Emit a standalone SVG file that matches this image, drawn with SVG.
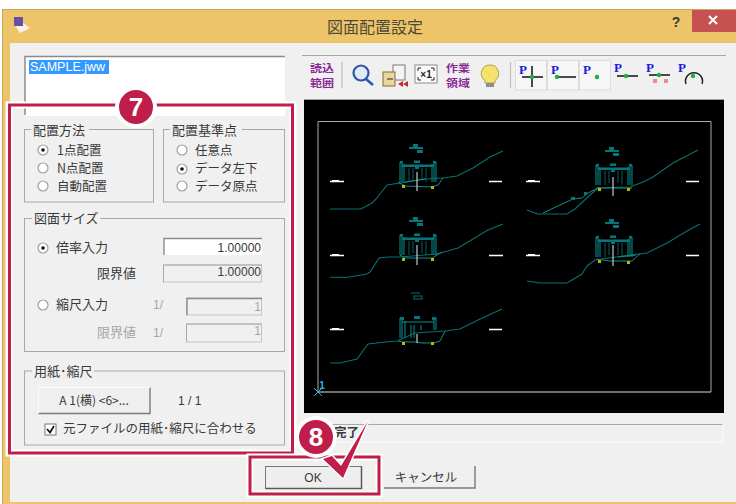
<svg xmlns="http://www.w3.org/2000/svg" xmlns:xlink="http://www.w3.org/1999/xlink" width="736" height="504" viewBox="0 0 736 504">
<style>
text{font-family:"Noto Sans CJK JP","Noto Sans",sans-serif;font-size:13px;fill:#3a3a3a}
.lat{font-family:"Liberation Sans",sans-serif;font-size:12px}
.opt{font-size:12.500px}
.dis{fill:#a6a6a6}
.grp{fill:none;stroke:#a8a8a8;stroke-width:1}
.lbl{fill:#f0f0f0}
.field{fill:#f0f0f0;stroke:#c4c4c4;stroke-width:1}
.sunk{fill:none;stroke:#8a8a8a;stroke-width:1.4}
.radio{fill:#fff;stroke:#a0a0a0;stroke-width:1.2}
.btn{fill:#eeeeee;stroke:#777;stroke-width:1}
.t{fill:none;stroke:#0b6f70;stroke-width:1.1}
.s{fill:none;stroke:#0a9092;stroke-width:1}
.i{fill:none;stroke:#075f60;stroke-width:1}
.sf{fill:#087678}
.mk{stroke:#fff;stroke-width:1.4}
.y{fill:#b8b800}
.hl{fill:none;stroke:#fff;stroke-width:8}
.rd{fill:none;stroke:#bf1e4b;stroke-width:3}
.bd{fill:#bf1e4b;stroke:#fff;stroke-width:4}
.num{font-family:"Liberation Sans",sans-serif;font-weight:700;font-size:26px;fill:#fff;text-anchor:middle}
.P{font-family:"Liberation Serif",serif;font-weight:700;font-size:13px;fill:#1a1ae0}
.pur{font-size:9.800px;font-weight:700;fill:#8a2a96}
.tb{stroke:#111;stroke-width:1.5}
.g{fill:#1fae3c}
.tg{fill:#f6f6f6;stroke:#dcdcdc;stroke-width:1}
</style>
<defs>
<g id="dwg">
<path class="s" d="M-17 20V0M-15 20V1M-13 20V2M19 20V0M17 20V1M15 20V2"/>
<path class="i" d="M-8 6V20M-4 6V18M5 6V18M9 6V20"/>
<path class="sf" d="M-15 2.500H17V5H-15ZM-17-1H-14V1.500H-17ZM-3-1.500H3V1H-3ZM16-1H19V1.500H16Z"/>
<rect class="sf" x="-2" y="5" width="4" height="2"/>
<path class="sf" d="M-8-15H-4V-18H1V-15H6V-13H-8ZM0-12H6V-9H0Z"/>
</g>
</defs>
<rect width="736" height="504" fill="#fff"/>
<g id="window">
<rect x="2.500" y="9.500" width="740" height="495" fill="#eec468" stroke="#c9a75c"/>
<rect x="10" y="43" width="726" height="459" fill="#f0f0f0"/>
<rect x="692" y="10" width="44" height="22" fill="#c75050"/>
<path d="M709 16L717 24M717 16L709 24" stroke="#fff" stroke-width="2"/>
<text x="676" y="27" class="lat" style="font-size:14px;font-weight:700;text-anchor:middle">?</text>
<text x="327" y="33" style="font-size:16px;fill:#4a4a3a">図面配置設定</text>
<path d="M14 24L22 22L30 28L20 33Z" fill="#f5f3e8"/>
<rect x="14" y="17" width="9" height="9" fill="#6a4fa8"/>
</g>
<g id="filelist">
<rect x="25" y="56" width="260" height="60" fill="#fff"/>
<path d="M25 115V56.500H285" fill="none" stroke="#8c8c8c" stroke-width="1.500"/>
<rect x="29" y="60" width="80" height="14" fill="#3399ff"/>
<text x="30" y="71" class="lat" style="fill:#fff;font-size:12.500px">SAMPLE.jww</text>
</g>
<g id="placement-method">
<rect class="grp" x="24.500" y="129.500" width="129" height="72.500"/>
<rect class="lbl" x="31" y="124" width="58" height="12"/>
<text x="33" y="135">配置方法</text>
<circle class="radio" cx="43" cy="150" r="5"/><circle cx="43" cy="150" r="1.800" fill="#111"/>
<text x="57" y="155" class="opt">1点配置</text>
<circle class="radio" cx="43" cy="168" r="5"/>
<text x="57" y="173" class="opt">N点配置</text>
<circle class="radio" cx="43" cy="186" r="5"/>
<text x="57" y="191" class="opt">自動配置</text>
</g>
<g id="base-point">
<rect class="grp" x="163.500" y="129.500" width="121" height="72.500"/>
<rect class="lbl" x="170" y="124" width="72" height="12"/>
<text x="172" y="135">配置基準点</text>
<circle class="radio" cx="182" cy="150" r="5"/>
<text x="195" y="155" class="opt">任意点</text>
<circle class="radio" cx="182" cy="169" r="5"/><circle cx="182" cy="169" r="1.800" fill="#111"/>
<text x="195" y="173" class="opt">データ左下</text>
<circle class="radio" cx="182" cy="186" r="5"/>
<text x="195" y="191" class="opt">データ原点</text>
</g>
<g id="drawing-size">
<rect class="grp" x="24.500" y="218.500" width="260" height="133"/>
<rect class="lbl" x="32" y="212" width="68" height="13"/>
<text x="34" y="223">図面サイズ</text>
<circle class="radio" cx="43" cy="248" r="5"/><circle cx="43" cy="248" r="1.800" fill="#111"/>
<text x="56" y="252">倍率入力</text>
<rect x="163.500" y="238" width="98" height="17" fill="#fff"/>
<path class="sunk" d="M164 255V238.500H262"/>
<text x="261" y="252" class="lat" text-anchor="end">1.00000</text>
<text x="97" y="278">限界値</text>
<rect class="field" x="163.500" y="265" width="98" height="17"/>
<path class="grp" d="M163.500 282V265H262"/>
<text x="261" y="276" class="lat" text-anchor="end">1.00000</text>
<circle class="radio" cx="43" cy="305" r="5"/>
<text x="56" y="309">縮尺入力</text>
<text x="153" y="309" class="lat dis">1/</text>
<rect class="field" x="186.500" y="298" width="75" height="17"/>
<path class="sunk" d="M187 315V298.500H262"/>
<text x="261" y="311" class="lat dis" text-anchor="end">1</text>
<text x="97" y="337" class="dis">限界値</text>
<text x="153" y="337" class="lat dis">1/</text>
<rect class="field" x="186.500" y="324" width="75" height="18"/>
<path class="grp" d="M186.500 342V324H262"/>
<text x="261" y="335" class="lat dis" text-anchor="end">1</text>
</g>
<g id="paper-scale">
<rect class="grp" x="24.500" y="371" width="260" height="74"/>
<rect class="lbl" x="32" y="365" width="62" height="13"/>
<text x="34" y="376">用紙･縮尺</text>
<rect x="38.500" y="387.500" width="111" height="26" fill="#efefef"/>
<path d="M38.500 413.500H150V387.500" fill="none" stroke="#7a7a7a" stroke-width="1.400"/>
<path d="M38.500 413V387.500H150" fill="none" stroke="#fbfbfb"/>
<text x="94" y="405" text-anchor="middle" style="font-size:12px">A 1(横) &lt;6&gt;...</text>
<text x="178" y="405" class="lat">1 / 1</text>
<rect x="45" y="424" width="11" height="11" fill="#fff" stroke="#777"/>
<path d="M47 429L50 432.500L54 426" fill="none" stroke="#111" stroke-width="1.700"/>
<text x="63" y="433" style="font-size:12.500px">元ファイルの用紙･縮尺に合わせる</text>
</g>
<g id="toolbar">
<path d="M302 55.500H726" stroke="#a8a8a8"/>
<path d="M342 62V88M510.500 62V88" stroke="#bdbdbd" stroke-width="1.200"/>
<text class="pur" x="310" y="72" textLength="24" lengthAdjust="spacingAndGlyphs">読込</text>
<text class="pur" x="310" y="86.500" textLength="24" lengthAdjust="spacingAndGlyphs">範囲</text>
<circle cx="361" cy="73" r="7.500" fill="#dfe9f7" stroke="#2d55a8" stroke-width="2.200"/>
<path d="M366 79L373 85" stroke="#2d55a8" stroke-width="2.600"/>
<rect x="393" y="65" width="12" height="15" fill="#f4f4f4" stroke="#777"/>
<rect x="383" y="72" width="12" height="14" fill="#e8d7a0" stroke="#8a6a2a"/>
<path d="M387 79H393" stroke="#222"/>
<path d="M403 81L398 84L403 87ZM408 81L403 84L408 87Z" fill="#c0302a"/>
<rect x="415" y="65" width="22" height="18" fill="#fbfbfb" stroke="#8a8a8a"/>
<path d="M418 71V68H421M431 68H434V71M418 77V80H421M431 80H434V77" fill="none" stroke="#222"/>
<text x="426" y="78" text-anchor="middle" style="font-family:'Liberation Sans',sans-serif;font-size:10px;font-weight:700;fill:#222">×1</text>
<text class="pur" x="446" y="72" textLength="24" lengthAdjust="spacingAndGlyphs">作業</text>
<text class="pur" x="446" y="86.500" textLength="24" lengthAdjust="spacingAndGlyphs">領域</text>
<path d="M490 65a8.500 8.500 0 0 1 5 15.500V83H485V80.500A8.500 8.500 0 0 1 490 65Z" fill="#f4e26a" stroke="#b0a050"/>
<rect x="486" y="83" width="8" height="4" fill="#8d8d8d"/>
</g>
<g id="snap-buttons">
<rect class="tg" x="515.500" y="60.500" width="31" height="29.500"/>
<rect class="tg" x="547.500" y="60.500" width="31" height="29.500"/>
<rect class="tg" x="579.500" y="60.500" width="31" height="29.500"/>
<text x="519" y="74" class="P">P</text>
<path class="tb" d="M532 66V87M522 77H543"/><circle class="g" cx="532" cy="77" r="2.200"/>
<text x="551" y="74" class="P">P</text>
<path class="tb" d="M557 77H576"/><circle class="g" cx="557" cy="77" r="2.200"/>
<text x="583" y="74" class="P">P</text><circle class="g" cx="597" cy="77" r="2.200"/>
<text x="614" y="72" class="P">P</text>
<path class="tb" d="M617 76H638"/><circle class="g" cx="626" cy="76" r="2.200"/>
<text x="646" y="72" class="P">P</text>
<path class="tb" d="M649 75H670"/><circle class="g" cx="659" cy="75" r="2.200"/>
<path d="M654 79V83M656 79V83M665 79V83M667 79V83" stroke="#e03030"/>
<text x="678" y="72" class="P">P</text>
<path d="M686 84A8.500 8.500 0 1 1 702 84" fill="none" stroke="#222" stroke-width="1.500"/><circle class="g" cx="693" cy="76" r="2.200"/>
</g>
<g id="preview">
<rect x="304" y="100" width="420" height="313" fill="#000"/>
<path d="M304 99.500H724" stroke="#a0a0a0"/>
<path d="M318 392V121.500H711V392" fill="none" stroke="#aaa"/>
<path d="M318 392H711" stroke="#ddd"/>
<path d="M314 388L322 396M322 388L314 396" stroke="#2bb5e0"/>
<text x="322" y="389" style="font-family:'Liberation Sans',sans-serif;font-size:10px;font-weight:700;fill:#2bb5e0" text-anchor="middle">1</text>
<use xlink:href="#dwg" href="#dwg" x="417" y="162"/>
<path class="t" d="M330 209H361L372 203L377 198L387 185L400 183L425 179L443 178L457 176L473 168L490 157L503 151"/>
<path class="s" d="M398 182L405 186L432 187L438 185L443 178M425 179L405 182"/>
<rect class="y" x="402" y="185" width="3" height="3"/><rect class="y" x="431" y="186" width="3" height="3"/>
<path d="M417 172V191" stroke="#c8c8c8" stroke-width="1.200"/>
<path class="mk" d="M330 181.500H344M489 181.500H502"/><rect x="332" y="180" width="7" height="1.500" fill="#fff"/>
<use xlink:href="#dwg" href="#dwg" x="613" y="165"/>
<path class="t" d="M527 210L538 214H567L575 209L590 195L598 188L630 187L643 182L653 177L673 163L698 150"/>
<path class="s" d="M543 213L560 205L573 199L582 198L588 193L598 188"/>
<rect class="sf" x="571" y="197" width="4" height="3"/><rect class="sf" x="584" y="192" width="3" height="3"/>
<path class="s" d="M596 188H632"/>
<rect class="y" x="598" y="188" width="3" height="3"/><rect class="y" x="627" y="188" width="3" height="3"/>
<path d="M613 177V196" stroke="#c8c8c8" stroke-width="1.200"/>
<path class="mk" d="M526 181.500H540M686 181.500H699"/><rect x="528" y="180" width="7" height="1.500" fill="#fff"/>
<use xlink:href="#dwg" href="#dwg" x="417" y="235"/>
<path class="t" d="M330 277.300H348L355 276L367 274L370 272L379 258L388 257L400 257L437 254L458 248L488 230L503 224"/>
<path class="s" d="M400 255L405 258H432L442 252"/>
<rect class="y" x="402" y="258" width="3" height="3"/><rect class="y" x="431" y="258" width="3" height="3"/>
<path d="M417 245V265" stroke="#c8c8c8" stroke-width="1.200"/>
<path class="mk" d="M330 255.500H344M489 255.500H503"/><rect x="332" y="254" width="7" height="1.500" fill="#fff"/>
<use xlink:href="#dwg" href="#dwg" x="613" y="237"/>
<path class="t" d="M527 281L540 283H567L582 274L587 266L595 260L630 255L647 253L667 243L687 231L700 224"/>
<path class="s" d="M596 259L610 261H632L640 254M618 257L636 255"/>
<rect class="y" x="598" y="260" width="3" height="3"/><rect class="y" x="627" y="261" width="3" height="3"/>
<path d="M613 245V266" stroke="#c8c8c8" stroke-width="1.200"/>
<path class="mk" d="M526 255.500H540M686 255.500H699"/><rect x="528" y="254" width="7" height="1.500" fill="#fff"/>
<g transform="translate(417 318)"><path class="s" d="M-17 20V0M-15 20V1M-12 20V3M19 12V0M17 12V1M-3 7V20M-6 7V20M4 7V12M-15 4H17"/><path class="sf" d="M-17-1H-13V2H-17ZM-3-2H3V1H-3ZM15-1H19V2H15Z"/></g>
<path class="t" d="M411 293H420M414 296H422V299H414Z"/>
<path class="t" d="M330 363H340L357 359L368 344L385 342L397 341L415 333L445 331L460 329L478 320L502 309"/>
<path class="s" d="M398 341L403 342H415L422 343L434 343L440 341L445 331"/>
<rect class="y" x="402" y="342" width="3" height="3"/><rect class="y" x="431" y="342" width="3" height="3"/>
<path d="M417 334V343" stroke="#c8c8c8" stroke-width="1.200"/>
<path class="mk" d="M330 329.500H344M489 329.500H502"/><rect x="332" y="328" width="7" height="1.500" fill="#fff"/>
</g>
<g id="status">
<path d="M305 424.500H723" stroke="#a8a8a8"/>
<path d="M723 424V442.500H305" fill="none" stroke="#fbfbfb"/>
<text x="334" y="437" style="font-weight:700;font-size:12.500px">完了</text>
</g>
<g id="buttons">
<rect class="btn" x="265.500" y="466.500" width="96" height="22"/>
<path d="M361.500 466.500V488.500H265.500" fill="none" stroke="#5a5a5a" stroke-width="1.500"/>
<text x="313" y="482" class="lat" text-anchor="middle">OK</text>
<rect x="384" y="466" width="91" height="22" fill="#efefef"/>
<path d="M475 466V488H384" fill="none" stroke="#7a7a7a" stroke-width="1.400"/>
<text x="426" y="482" text-anchor="middle" style="font-size:12.500px">キャンセル</text>
</g>
<g id="callout-7">
<path class="hl" d="M9 105H293V453H9Z" style="stroke-width:7"/>
<path class="rd" d="M9.500 105H292.500V453H9.500Z"/>
<circle class="bd" cx="136" cy="107" r="19"/>
<text class="num" x="136" y="116">7</text>
</g>
<g id="callout-8">
<rect class="hl" x="250" y="457" width="129" height="37" style="stroke-width:7"/>
<rect class="rd" x="250" y="457" width="129" height="37"/>
<circle class="bd" cx="316" cy="437" r="19"/>
<text class="num" x="316" y="446">8</text>
<path d="M323 459L332 456L341 466L368 421L343 478Z" fill="#bf1e4b" stroke="#fff" stroke-width="3" paint-order="stroke" stroke-linejoin="miter"/>
</g>
</svg>
